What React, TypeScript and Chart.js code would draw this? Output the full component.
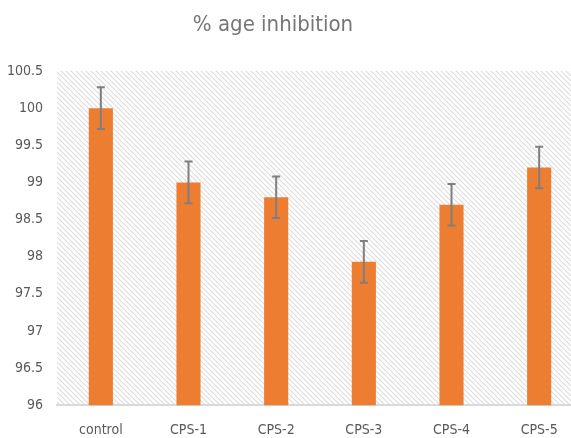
import React, { useEffect, useRef } from "react";
import { Chart, registerables } from "chart.js";

Chart.register(...registerables);

const categories = ["control", "CPS-1", "CPS-2", "CPS-3", "CPS-4", "CPS-5"];
const inhibition = [100, 99, 98.8, 97.93, 98.7, 99.2];
const errors = [0.28, 0.28, 0.28, 0.28, 0.28, 0.28];
const titleText = "% age inhibition";

const FONT = "'Liberation Sans Narrow', 'DejaVu Sans Condensed', 'Open Sans', sans-serif";

function makePattern(ctx: CanvasRenderingContext2D) {
  const s = 5;
  const c = document.createElement("canvas");
  c.width = s;
  c.height = s;
  const p = c.getContext("2d")!;
  p.fillStyle = "#ffffff";
  p.fillRect(0, 0, s, s);
  p.strokeStyle = "#dcdcdc";
  p.lineWidth = 1.1;
  p.beginPath();
  p.moveTo(-1, -1);
  p.lineTo(s + 1, s + 1);
  p.moveTo(-1, s - 1);
  p.lineTo(1, s + 1);
  p.moveTo(s - 1, -1);
  p.lineTo(s + 1, 1);
  p.stroke();
  return ctx.createPattern(c, "repeat");
}

const backgroundPlugin = {
  id: "hatchBg",
  beforeDraw(chart: any) {
    const { ctx, chartArea } = chart;
    const pat = makePattern(ctx);
    ctx.save();
    ctx.fillStyle = pat || "#eee";
    ctx.fillRect(chartArea.left, chartArea.top, chartArea.right - chartArea.left, chartArea.bottom - chartArea.top);
    ctx.restore();
  },
};

const titlePlugin = {
  id: "customTitle",
  afterDraw(chart: any) {
    const { ctx } = chart;
    ctx.save();
    ctx.font = `22px ${FONT}`;
    ctx.fillStyle = "#767676";
    ctx.textAlign = "center";
    ctx.textBaseline = "middle";
    ctx.fillText(titleText, 273, 25);
    ctx.restore();
  },
};

const errorBarPlugin = {
  id: "errorBars",
  afterDatasetsDraw(chart: any) {
    const { ctx } = chart;
    const meta = chart.getDatasetMeta(0);
    const y = chart.scales.y;
    ctx.save();
    ctx.strokeStyle = "#7f7f7f";
    ctx.lineWidth = 2;
    meta.data.forEach((bar: any, i: number) => {
      const v = inhibition[i];
      const e = errors[i];
      const x = bar.x;
      const yt = y.getPixelForValue(v + e);
      const yb = y.getPixelForValue(v - e);
      ctx.beginPath();
      ctx.moveTo(x, yt);
      ctx.lineTo(x, yb);
      ctx.moveTo(x - 4, yt);
      ctx.lineTo(x + 4, yt);
      ctx.moveTo(x - 4, yb);
      ctx.lineTo(x + 4, yb);
      ctx.stroke();
    });
    ctx.restore();
  },
};

export default function App() {
  const ref = useRef<HTMLCanvasElement>(null);
  useEffect(() => {
    document.body.style.margin = "0";
    document.body.style.overflow = "hidden";
    const chart = new Chart(ref.current!, {
      type: "bar",
      data: {
        labels: categories,
        datasets: [
          {
            data: inhibition,
            backgroundColor: "#ED7D31",
            borderWidth: 0,
            categoryPercentage: 1,
            barPercentage: 0.275,
          },
        ],
      },
      plugins: [backgroundPlugin, errorBarPlugin, titlePlugin],
      options: {
        animation: false,
        responsive: false,
        maintainAspectRatio: false,
        layout: { padding: { top: 71, right: 17, left: 0, bottom: -18 } },
        plugins: {
          legend: { display: false },
          title: { display: false },
          tooltip: { enabled: false },
        },
        scales: {
          x: {
            grid: { display: false, drawTicks: false },
            border: { display: true, color: "#d9d9d9", width: 2 },
            ticks: {
              padding: 17,
              color: "#595959",
              font: { family: FONT, size: 14 },
              maxRotation: 0,
            },
          },
          y: {
            min: 96,
            max: 100.5,
            grid: { display: false, drawTicks: false },
            border: { display: false },
            afterFit(scale: any) {
              scale.width = 57;
            },
            ticks: {
              stepSize: 0.5,
              padding: 14,
              color: "#595959",
              font: { family: FONT, size: 14 },
              callback: (v: any) => String(v),
            },
          },
        },
      },
    });
    return () => chart.destroy();
  }, []);
  return (
    <div style={{ width: 571, height: 438, overflow: "hidden", position: "relative", background: "#fff" }}>
      <canvas ref={ref} width={600} height={438} style={{ display: "block" }} />
    </div>
  );
}
